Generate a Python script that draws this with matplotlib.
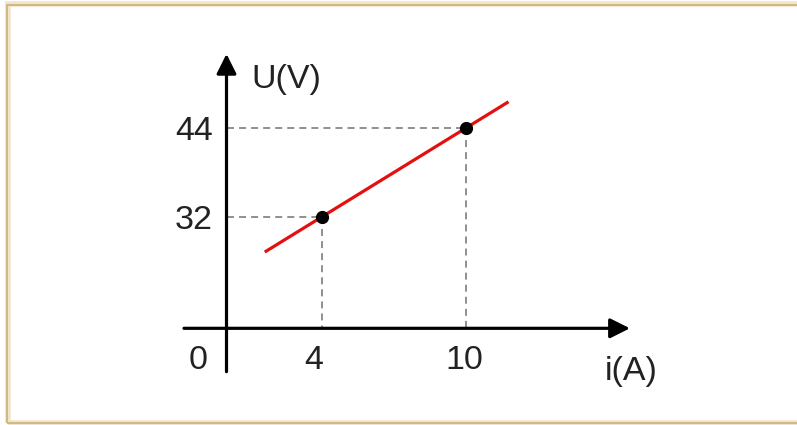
import numpy as np
import matplotlib.pyplot as plt
from matplotlib.patches import Rectangle

plt.rcParams['font.family'] = ['Liberation Sans', 'DejaVu Sans']

# Data
point_i = [4, 10]          # current (A)
point_u = [32, 44]         # voltage (V)
line_i = [1.6, 11.8]       # extent of the red line
line_u = [27.2, 47.6]      # U = 2 i + 24
x_ticks = [0, 4, 10]
y_ticks = [32, 44]

# Axis frame (schematic, axis origin is broken on U)
axis_u = 16.85
x_axis_span = (-1.78, 16.88)
y_axis_span = (10.96, 54.1)

TEXT = '#222222'
GRAY = '#8f8f8f'

fig = plt.figure(figsize=(7.97, 4.25), dpi=100)
ax = fig.add_axes([0, 0, 1, 1])
ax.set_xlim(-226.5 / 23.9, (797 - 226.5) / 23.9)
ax.set_ylim(32 - 208.3 / 7.367, 32 + 216.7 / 7.367)
ax.axis('off')

# frame around the picture
fig.patches.append(Rectangle((8 / 797, 2 / 425), 1.0, 419 / 425,
                             transform=fig.transFigure, fill=False,
                             edgecolor='#f0e4cc', lw=4, zorder=0))
fig.patches.append(Rectangle((7 / 797, 2.5 / 425), 1.0, 418 / 425,
                             transform=fig.transFigure, fill=False,
                             edgecolor='#d2b77f', lw=1.4))

# axes with arrows
arrow = dict(arrowstyle='-|>,head_length=0.6,head_width=0.3',
             mutation_scale=20, lw=2.3, color='black',
             shrinkA=0, shrinkB=0)
ax.annotate('', xy=(x_axis_span[1], axis_u), xytext=(x_axis_span[0], axis_u),
            arrowprops=arrow)
ax.annotate('', xy=(0, y_axis_span[1]), xytext=(0, y_axis_span[0]),
            arrowprops=arrow)

# dashed guides
for xi, yu in zip(point_i, point_u):
    ax.plot([0, xi], [yu, yu], color=GRAY, lw=1.4, ls=(0, (3.6, 2.6)))
    ax.plot([xi, xi], [yu, axis_u], color=GRAY, lw=1.4, ls=(0, (3.6, 2.6)))

# red line and points
ax.plot(line_i, line_u, color='#e3100f', lw=2.3, solid_capstyle='butt')
ax.plot(point_i, point_u, 'o', color='black', ms=8.5)

# tick labels
fs = 24.5
for yu in y_ticks:
    ax.text(-0.56, yu, str(yu), ha='right', va='center_baseline',
            fontsize=fs, color=TEXT)
x_label_pos = [-1.19, 3.66, 9.94]
for xp, xt in zip(x_label_pos, x_ticks):
    ax.text(xp, 12.96, str(xt), ha='center', va='center_baseline',
            fontsize=fs, color=TEXT)

ax.text(16.95, 11.4, 'i(A)', ha='center', va='center_baseline',
        fontsize=fs, color=TEXT)
ax.text(1.05, 51.1, 'U(V)', ha='left', va='center_baseline',
        fontsize=fs, color=TEXT)

fig.savefig('out.png', dpi=100)
